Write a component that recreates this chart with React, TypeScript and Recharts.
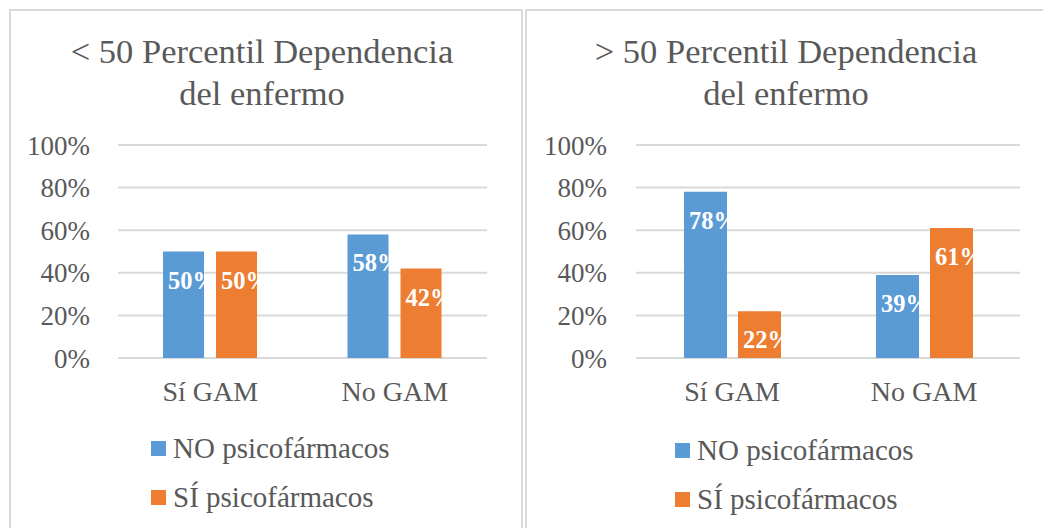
import React from "react";
import { BarChart, Bar, XAxis, YAxis, CartesianGrid, Legend, LabelList } from "recharts";

// categories and series
const categories = ["Sí GAM", "No GAM"];
const seriesNames = ["NO psicofármacos", "SÍ psicofármacos"];

// < 50 percentil
const lowTitle = ["< 50 Percentil Dependencia", "del enfermo"];
const lowNoPsico = [50, 58];
const lowSiPsico = [50, 42];

// > 50 percentil
const highTitle = ["> 50 Percentil Dependencia", "del enfermo"];
const highNoPsico = [78, 39];
const highSiPsico = [22, 61];

const yTicks = [0, 20, 40, 60, 80, 100];

const BLUE = "#5B9BD5";
const ORANGE = "#ED7D31";
const TEXT = "#595959";
const GRID = "#D9D9D9";
const FONT = "'Liberation Serif', 'Times New Roman', serif";

const buildData = (no: number[], si: number[]) =>
	categories.map((name, i) => ({ name, no: no[i], si: si[i] }));

// white bold label clipped to the bar, like Excel does
const makeLabel = (prefix: string) => (props: any) => {
	const x = Number(props.x);
	const y = Number(props.y);
	const width = Number(props.width);
	const height = Number(props.height);
	const id = `${prefix}-${props.index}`;
	return (
		<g>
			<defs>
				<clipPath id={id}>
					<rect x={x} y={y} width={width + 3} height={height} />
				</clipPath>
			</defs>
			<text
				x={x + 5}
				y={y + 37}
				fill='#FFFFFF'
				fontSize={24.5}
				fontWeight='bold'
				fontFamily={FONT}
				clipPath={`url(#${id})`}
			>
				{props.value}%
			</text>
		</g>
	);
};

const renderLegend = (props: any) => {
	const payload = props.payload || [];
	return (
		<svg width={300} height={110} style={{ overflow: "visible" }}>
			{payload.map((entry: any, i: number) => (
				<g key={`leg-${i}`}>
					<rect x={0} y={i * 49} width={15} height={15} fill={entry.color} />
					<text x={22} y={i * 49 + 17} fontSize={29} fontFamily={FONT} fill={TEXT}>
						{entry.value}
					</text>
				</g>
			))}
		</svg>
	);
};

interface PanelProps {
	id: string;
	data: { name: string; no: number; si: number }[];
	width: number;
	marginLeft: number;
	marginRight: number;
	barSize: number;
	barGap: number;
	tickGap: number;
	legendTop: number;
}

function PercentChart({ id, data, width, marginLeft, marginRight, barSize, barGap, tickGap, legendTop }: PanelProps) {
	return (
		<BarChart
			width={width}
			height={528}
			data={data}
			margin={{ top: 145, right: marginRight, bottom: 110, left: marginLeft }}
			barSize={barSize}
			barGap={barGap}
		>
			<CartesianGrid vertical={false} stroke={GRID} strokeWidth={2} />
			<XAxis
				dataKey='name'
				axisLine={false}
				tickLine={false}
				tickSize={0}
				tickMargin={23}
				height={60}
				interval={0}
				tick={{ fill: TEXT, fontSize: 28, fontFamily: FONT }}
			/>
			<YAxis
				width={100}
				domain={[0, 100]}
				ticks={yTicks}
				interval={0}
				axisLine={false}
				tickLine={false}
				tickSize={0}
				tickMargin={tickGap}
				tickFormatter={(v: number) => `${v}%`}
				tick={{ fill: TEXT, fontSize: 27, fontFamily: FONT }}
			/>
			<Legend
				layout='vertical'
				align='center'
				verticalAlign='middle'
				content={renderLegend}
				wrapperStyle={{ position: "absolute", left: 151, top: legendTop, width: 300, height: 110 }}
			/>
			<Bar dataKey='no' name={seriesNames[0]} fill={BLUE} isAnimationActive={false}>
				<LabelList dataKey='no' content={makeLabel(`${id}-no`)} />
			</Bar>
			<Bar dataKey='si' name={seriesNames[1]} fill={ORANGE} isAnimationActive={false}>
				<LabelList dataKey='si' content={makeLabel(`${id}-si`)} />
			</Bar>
		</BarChart>
	);
}

const titleStyle: React.CSSProperties = {
	position: "absolute",
	top: 29.5,
	textAlign: "center",
	fontFamily: FONT,
	fontSize: 34.5,
	lineHeight: "42px",
	color: TEXT,
	whiteSpace: "nowrap",
};

export default function App() {
	return (
		<div
			style={{
				position: "absolute",
				left: 0,
				top: 0,
				width: 1043,
				height: 528,
				overflow: "hidden",
				background: "#FFFFFF",
			}}
		>
			{/* panel frames */}
			<div
				style={{
					position: "absolute",
					left: 9,
					top: 9,
					width: 510,
					height: 560,
					border: `2px solid ${GRID}`,
				}}
			/>
			<div
				style={{
					position: "absolute",
					left: 525,
					top: 9,
					width: 560,
					height: 560,
					border: `2px solid ${GRID}`,
				}}
			/>

			<div style={{ ...titleStyle, left: 9, width: 506 }}>
				{lowTitle[0]}
				<br />
				{lowTitle[1]}
			</div>
			<div style={{ ...titleStyle, left: 525, width: 522 }}>
				{highTitle[0]}
				<br />
				{highTitle[1]}
			</div>

			<div style={{ position: "absolute", left: 0, top: 0 }}>
				<PercentChart
					id='low'
					data={buildData(lowNoPsico, lowSiPsico)}
					width={522}
					marginLeft={18}
					marginRight={35}
					barSize={41}
					barGap={12}
					tickGap={28}
					legendTop={441}
				/>
			</div>
			<div style={{ position: "absolute", left: 524, top: 0 }}>
				<PercentChart
					id='high'
					data={buildData(highNoPsico, highSiPsico)}
					width={519}
					marginLeft={12}
					marginRight={23}
					barSize={43}
					barGap={11}
					tickGap={29}
					legendTop={443}
				/>
			</div>
		</div>
	);
}
